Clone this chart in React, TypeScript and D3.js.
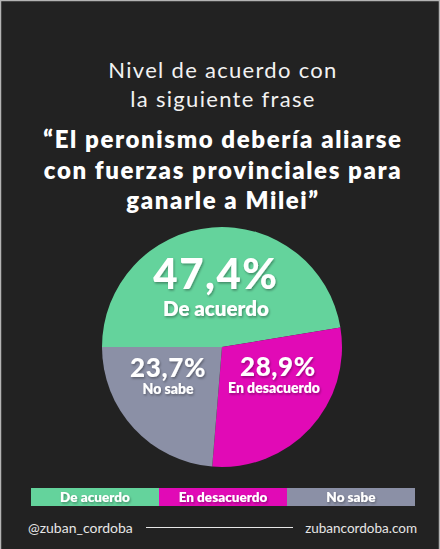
import React from "react";
import * as d3 from "d3";

const categories = ["De acuerdo", "En desacuerdo", "No sabe"];
const values = [47.4, 28.9, 23.7];
const valueLabels = ["47,4%", "28,9%", "23,7%"];
const colors = ["#64d39c", "#e10ab6", "#8b90a6"];
const titleLines = ["Nivel de acuerdo con", "la siguiente frase"];
const quoteLines = ["“El peronismo debería aliarse", "con fuerzas provinciales para", "ganarle a Milei”"];
const footerLeft = "@zuban_cordoba";
const footerRight = "zubancordoba.com";

const W = 440;
const H = 549;
const FONT = "Lato, 'Open Sans', sans-serif";

// label layout per slice
const labelCfg = [
  { rf: 0.42, dx: -2, dy: -8, big: 42, small: 20.5, gap: 27, ls: 1.5, dx2: 0 },
  { rf: 0.6, dx: 3, dy: -19.5, big: 26, small: 14, gap: 17, ls: 0.6, dx2: -4 },
  { rf: 0.6, dx: -1, dy: -18.5, big: 26, small: 14, gap: 17, ls: 0.6, dx2: 0 },
];

export default function App() {
  const cx = 222;
  const cy = 347;
  const r = 120;
  const pie = d3
    .pie<number>()
    .sort(null)
    .value((d) => d)
    .startAngle(-Math.PI / 2)
    .endAngle((3 * Math.PI) / 2);
  const arcs = pie(values);
  const arc = d3.arc<d3.PieArcDatum<number>>().innerRadius(0).outerRadius(r);

  const legendX = d3.scaleBand<string>().domain(categories).range([31, 415]).padding(0);

  return (
    <svg width={W} height={H} style={{ display: "block", position: "absolute", left: 0, top: 0 }}>
      <defs>
        <filter id="sh" x="-20%" y="-20%" width="140%" height="160%">
          <feDropShadow dx="1" dy="1.5" stdDeviation="1" floodColor="#000" floodOpacity="0.35" />
        </filter>
      </defs>
      <rect x={0} y={0} width={W} height={H} fill="#222222" />
      <line x1={0.5} y1={0} x2={0.5} y2={H} stroke="#b4b4b4" strokeWidth={1.5} />
      <line x1={0} y1={0.5} x2={W} y2={0.5} stroke="#b4b4b4" strokeWidth={1.5} />
      <line x1={W - 0.5} y1={0} x2={W - 0.5} y2={H} stroke="#b4b4b4" strokeWidth={1.5} />

      {titleLines.map((t, i) => (
        <text key={t} x={223} y={78 + i * 29} textAnchor="middle" fill="#f2f2f2" fontFamily={FONT} fontSize={22} fontWeight={400} letterSpacing={1.3}>
          {t}
        </text>
      ))}
      {quoteLines.map((t, i) => (
        <text key={t} x={223} y={148 + i * 30.5} textAnchor="middle" fill="#ffffff" fontFamily={FONT} fontSize={24} fontWeight={800} letterSpacing={1.6}>
          {t}
        </text>
      ))}

      <g transform={`translate(${cx},${cy})`}>
        {arcs.map((a, i) => (
          <path key={categories[i]} d={arc(a) || ""} fill={colors[i]} />
        ))}
        {arcs.map((a, i) => {
          const c = labelCfg[i];
          const [x, y] = d3.arc<d3.PieArcDatum<number>>().innerRadius(r * c.rf).outerRadius(r * c.rf).centroid(a);
          const lx = x + c.dx;
          const ly = y + c.dy;
          return (
            <g key={"l" + i} filter="url(#sh)" fontFamily={FONT} fill="#fff" textAnchor="middle">
              <text x={lx} y={ly} fontSize={c.big} fontWeight={900} letterSpacing={c.ls}>
                {valueLabels[i]}
              </text>
              <text x={lx + c.dx2} y={ly + c.gap} fontSize={c.small} fontWeight={800}>
                {categories[i]}
              </text>
            </g>
          );
        })}
      </g>

      {categories.map((c, i) => (
        <g key={"lg" + c}>
          <rect x={legendX(c)} y={488} width={legendX.bandwidth()} height={18} fill={colors[i]} />
          <text
            x={(legendX(c) || 0) + legendX.bandwidth() / 2}
            y={502}
            textAnchor="middle"
            fill="#fff"
            fontFamily={FONT}
            fontSize={13.5}
            fontWeight={800}
            filter="url(#sh)"
          >
            {c}
          </text>
        </g>
      ))}

      <text x={28} y={533} fill="#e6e6e6" fontFamily={FONT} fontSize={14}>
        {footerLeft}
      </text>
      <line x1={146} x2={293} y1={527.5} y2={527.5} stroke="#e6e6e6" strokeWidth={1} />
      <text x={417} y={533} textAnchor="end" fill="#e6e6e6" fontFamily={FONT} fontSize={13.5}>
        {footerRight}
      </text>
    </svg>
  );
}
